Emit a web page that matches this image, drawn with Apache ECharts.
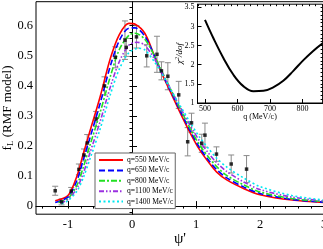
<!DOCTYPE html>
<html><head><meta charset="utf-8">
<script src="https://cdn.jsdelivr.net/npm/echarts@6/dist/echarts.min.js"></script>
<style>html,body{margin:0;padding:0;background:#fff}#c{width:323px;height:249px}</style>
</head><body><div id="c"></div>
<script>
// ---- main panel: scaling function data (psi', f_L, error) ----
const expPsi = [-1.20, -1.10, -0.95, -0.83, -0.75, -0.70, -0.56, -0.43, -0.26, -0.11, -0.09, 0.07, 0.23, 0.39, 0.46, 0.56, 0.73, 0.87, 0.93, 1.09, 1.14, 1.32, 1.55, 1.79];
const expF   = [0.051, 0.014, 0.050, 0.122, 0.170, 0.210, 0.290, 0.400, 0.495, 0.552, 0.528, 0.563, 0.500, 0.505, 0.450, 0.432, 0.370, 0.214, 0.277, 0.209, 0.236, 0.173, 0.140, 0.123];
const expErr = [0.015, 0.010, 0.012, 0.018, 0.020, 0.028, 0.025, 0.030, 0.035, 0.064, 0.030, 0.037, 0.037, 0.060, 0.030, 0.045, 0.045, 0.047, 0.032, 0.030, 0.040, 0.024, 0.030, 0.045];

// RMF model curves, one per momentum transfer
const psi550  = [-1.20,-1.00,-0.86,-0.76,-0.66,-0.50,-0.34,-0.20,-0.05,0.05,0.20,0.35,0.44,0.60,0.75,0.91,1.06,1.20,1.32,1.48,1.75,2.00,2.50,3.00];
const f550    = [0.018,0.035,0.100,0.175,0.247,0.362,0.490,0.570,0.608,0.605,0.575,0.500,0.453,0.380,0.312,0.243,0.186,0.145,0.114,0.087,0.058,0.038,0.020,0.012];
const psi650  = [-1.20,-1.00,-0.86,-0.76,-0.66,-0.50,-0.34,-0.20,-0.05,0.05,0.20,0.35,0.44,0.60,0.75,0.91,1.06,1.20,1.32,1.48,1.75,2.00,2.50,3.00];
const f650    = [0.012,0.030,0.085,0.155,0.225,0.340,0.465,0.550,0.592,0.593,0.565,0.500,0.455,0.385,0.318,0.250,0.193,0.152,0.122,0.094,0.063,0.042,0.022,0.013];
const psi800  = [-1.15,-1.00,-0.86,-0.76,-0.66,-0.50,-0.34,-0.20,-0.05,0.05,0.20,0.35,0.44,0.60,0.75,0.91,1.06,1.20,1.32,1.48,1.75,2.00,2.50,3.00];
const f800    = [0.012,0.025,0.070,0.130,0.200,0.310,0.430,0.520,0.568,0.575,0.555,0.500,0.460,0.390,0.325,0.258,0.202,0.162,0.132,0.102,0.070,0.047,0.025,0.015];
const psi1100 = [-1.12,-1.00,-0.86,-0.76,-0.66,-0.50,-0.34,-0.20,-0.05,0.08,0.20,0.35,0.44,0.60,0.75,0.91,1.06,1.20,1.32,1.48,1.75,2.00,2.50,3.00];
const f1100   = [0.010,0.022,0.060,0.110,0.175,0.280,0.395,0.480,0.535,0.545,0.535,0.490,0.455,0.390,0.330,0.268,0.215,0.175,0.145,0.115,0.080,0.055,0.030,0.017];
const psi1400 = [-1.10,-1.00,-0.86,-0.76,-0.66,-0.50,-0.34,-0.20,-0.05,0.10,0.20,0.35,0.44,0.60,0.75,0.91,1.06,1.20,1.32,1.48,1.75,2.00,2.50,3.00];
const f1400   = [0.008,0.018,0.050,0.095,0.155,0.255,0.370,0.455,0.510,0.525,0.520,0.480,0.450,0.390,0.335,0.278,0.228,0.190,0.160,0.130,0.093,0.065,0.035,0.020];

// ---- inset: chi^2/dof vs q ----
const qVals = [500, 526, 557, 588, 618, 649, 680, 710, 741, 772, 803, 833, 862];
const chi2  = [3.17, 2.69, 2.17, 1.73, 1.44, 1.31, 1.32, 1.41, 1.58, 1.84, 2.12, 2.36, 2.56];

// tick labels
const mainXTicks = [-1, 0, 1, 2, 3];
const mainYTicks = [0, 0.1, 0.2, 0.3, 0.4, 0.5, 0.6];
const insetXTicks = [500, 600, 700, 800];
const insetYTicks = [1, 1.5, 2, 2.5, 3, 3.5];

function steps(a, b, s) { const r = []; for (let v = a; v <= b + 1e-9; v += s) r.push(Math.round(v * 1000) / 1000); return r; }
const zip = (a, b) => a.map((v, i) => [v, b[i]]);

const SERIF = 'Liberation Serif';
const chart = echarts.init(document.getElementById('c'), null, {renderer: 'canvas'});

function ax(opts) {
  return Object.assign({
    type: 'value', splitLine: {show: false}, nameMoveOverlap: false,
    axisLine: {show: true, lineStyle: {color: '#000', width: 1}},
    axisTick: {show: true, inside: true, length: 5, lineStyle: {color: '#000'}},
    axisLabel: {fontFamily: SERIF, color: '#000', fontSize: 12.5}
  }, opts);
}

const curves = [
  {name: 'q=550 MeV/c',  x: psi550,  y: f550,  color: '#ff0000', type: 'solid'},
  {name: 'q=650 MeV/c',  x: psi650,  y: f650,  color: '#0000ff', type: [6, 3]},
  {name: 'q=800 MeV/c',  x: psi800,  y: f800,  color: '#22e022', type: [6, 2, 2, 2]},
  {name: 'q=1100 MeV/c', x: psi1100, y: f1100, color: '#9a30e0', type: [5, 2, 1.5, 2, 1.5, 2]},
  {name: 'q=1400 MeV/c', x: psi1400, y: f1400, color: '#00e8f0', type: [2, 2.5]}
];

const option = {
  animation: false,
  backgroundColor: '#fff',
  grid: [
    {left: 36, top: 1.7, width: 288, height: 212.5, show: true, borderColor: '#000', borderWidth: 1, outerBoundsMode: 'none', containLabel: false},
    {left: 197.5, top: 4.2, width: 125.1, height: 98.8, show: true, borderColor: '#000', borderWidth: 1, backgroundColor: '#fff', z: 5, outerBoundsMode: 'none', containLabel: false}
  ],
  xAxis: [
    ax({gridIndex: 0, min: -1.5, max: 3,
        axisTick: {show: true, inside: true, length: 5, customValues: mainXTicks, lineStyle: {color: '#000'}},
        axisLabel: {fontFamily: SERIF, color: '#000', fontSize: 12.5, margin: 4, customValues: mainXTicks},
        name: "ψ'", nameLocation: 'middle', nameGap: 17,
        nameTextStyle: {fontFamily: SERIF, fontSize: 15, color: '#000'}}),
    ax({gridIndex: 0, min: -1.5, max: 3, axisLine: {show: false},
        axisTick: {show: true, inside: true, length: 2.5, customValues: steps(-1.4, 2.8, 0.2), lineStyle: {color: '#000'}},
        axisLabel: {show: false}}),
    ax({gridIndex: 1, min: 477, max: 862, z: 6,
        axisTick: {show: true, inside: true, length: 4, customValues: insetXTicks, lineStyle: {color: '#000'}},
        axisLabel: {fontFamily: SERIF, color: '#000', fontSize: 8, margin: 2, customValues: insetXTicks},
        name: 'q (MeV/c)', nameLocation: 'middle', nameGap: 10,
        nameTextStyle: {fontFamily: SERIF, fontSize: 8, color: '#000'}}),
    ax({gridIndex: 1, min: 477, max: 862, axisLine: {show: false}, z: 6,
        axisTick: {show: true, inside: true, length: 2, customValues: steps(480, 860, 20), lineStyle: {color: '#000'}},
        axisLabel: {show: false}})
  ],
  yAxis: [
    ax({gridIndex: 0, min: -0.027, max: 0.68,
        axisTick: {show: true, inside: true, length: 5, customValues: mainYTicks, lineStyle: {color: '#000'}},
        axisLabel: {fontFamily: SERIF, color: '#000', fontSize: 12.5, margin: 3, customValues: mainYTicks},
        name: '{a|f}{b|L}{a| (RMF model)}', nameLocation: 'middle', nameGap: 21,
        nameTextStyle: {rich: {a: {fontFamily: SERIF, fontSize: 13, color: '#000', lineHeight: 14}, b: {fontFamily: SERIF, fontSize: 9, color: '#000', lineHeight: 14, verticalAlign: 'bottom'}}}}),
    ax({gridIndex: 0, min: -0.027, max: 0.68, axisLine: {show: false},
        axisTick: {show: true, inside: true, length: 2.5, customValues: steps(-0.02, 0.66, 0.02), lineStyle: {color: '#000'}},
        axisLabel: {show: false}}),
    ax({gridIndex: 1, min: 1, max: 3.58, z: 6,
        axisTick: {show: true, inside: true, length: 4, customValues: insetYTicks, lineStyle: {color: '#000'}},
        axisLabel: {fontFamily: SERIF, color: '#000', fontSize: 8, margin: 3, customValues: insetYTicks},
        name: '{i|χ}{s|2}{i|/dof}', nameLocation: 'middle', nameGap: 12,
        nameTextStyle: {rich: {i: {fontFamily: SERIF, fontStyle: 'italic', fontSize: 9, color: '#000'}, s: {fontFamily: SERIF, fontStyle: 'italic', fontSize: 6, color: '#000', verticalAlign: 'top', padding: [0, 0, 5, 0]}}}}),
    ax({gridIndex: 1, min: 1, max: 3.58, axisLine: {show: false}, z: 6,
        axisTick: {show: true, inside: true, length: 2, customValues: steps(1.1, 3.5, 0.1), lineStyle: {color: '#000'}},
        axisLabel: {show: false}})
  ],
  legend: {
    left: 95, top: 153, orient: 'vertical',
    itemWidth: 24, itemHeight: 8, itemGap: 2.4,
    padding: [3, 2, 3, 3],
    borderColor: '#666', borderWidth: 1, backgroundColor: '#fff',
    itemStyle: {opacity: 0},
    textStyle: {fontFamily: SERIF, fontSize: 7.6, color: '#000', padding: [0, 0, 0, -1]},
    data: curves.map(c => c.name)
  },
  series: [
    {
      type: 'custom', xAxisIndex: 0, yAxisIndex: 0, z: 3,
      data: expPsi.map((x, i) => [x, expF[i] - expErr[i], expF[i] + expErr[i]]),
      renderItem: function (params, api) {
        const x = api.value(0);
        const top = api.coord([x, api.value(2)]);
        const bot = api.coord([x, api.value(1)]);
        const w = 3, st = {stroke: '#8a8a8a', lineWidth: 1};
        return {type: 'group', children: [
          {type: 'line', shape: {x1: top[0], y1: top[1], x2: bot[0], y2: bot[1]}, style: st},
          {type: 'line', shape: {x1: top[0] - w, y1: top[1], x2: top[0] + w, y2: top[1]}, style: st},
          {type: 'line', shape: {x1: bot[0] - w, y1: bot[1], x2: bot[0] + w, y2: bot[1]}, style: st}
        ]};
      },
      silent: true
    }
  ].concat(curves.map(c => ({
    type: 'line', name: c.name, xAxisIndex: 0, yAxisIndex: 0, z: 4,
    data: zip(c.x, c.y), showSymbol: false, symbol: 'none', smooth: 0.3,
    lineStyle: {color: c.color, width: 1.6, type: c.type},
    itemStyle: {color: c.color}
  }))).concat([
    {
      type: 'scatter', xAxisIndex: 0, yAxisIndex: 0, z: 5,
      data: zip(expPsi, expF), symbol: 'rect', symbolSize: 3.5,
      itemStyle: {color: '#000'}
    },
    {
      type: 'line', xAxisIndex: 2, yAxisIndex: 2, z: 7,
      data: zip(qVals, chi2), showSymbol: false, symbol: 'none', smooth: 0.4,
      lineStyle: {color: '#000', width: 2}
    }
  ])
};
chart.setOption(option);
</script>
</body></html>
